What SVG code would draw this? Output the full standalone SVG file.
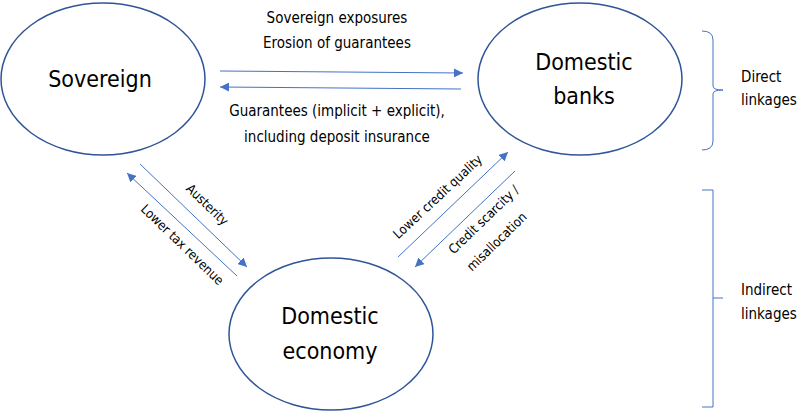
<svg xmlns="http://www.w3.org/2000/svg" width="800" height="415" viewBox="0 0 800 415">
<defs>
<marker id="ah" viewBox="0 0 10 10" refX="10" refY="5" markerWidth="9" markerHeight="9" markerUnits="userSpaceOnUse" orient="auto-start-reverse">
<path d="M0,0 L10,5 L0,10 z" fill="#4472C4"/>
</marker>
<style>
.node{fill:#fff;stroke:#2F5597;stroke-width:1.5}
.big{font-family:"Liberation Sans Narrow","DejaVu Sans Condensed","Liberation Sans",sans-serif;font-size:23px;fill:#000;text-anchor:middle}
.lab{font-family:"Liberation Sans Narrow","DejaVu Sans Condensed","Liberation Sans",sans-serif;font-size:15px;fill:#000;text-anchor:middle}
.sm{font-family:"Liberation Sans Narrow","DejaVu Sans Condensed","Liberation Sans",sans-serif;font-size:13px;fill:#000;text-anchor:middle}
.side{font-family:"Liberation Sans Narrow","DejaVu Sans Condensed","Liberation Sans",sans-serif;font-size:15px;fill:#000}
.ar{stroke:#4472C4;stroke-width:1;fill:none}
.br{stroke:#4472C4;stroke-width:1;fill:none}
</style>
</defs>
<rect width="800" height="415" fill="#fff"/>
<g id="sovereign">
<ellipse class="node" cx="103" cy="79" rx="102" ry="76"/>
<text class="big" x="100" y="87">Sovereign</text>
</g>
<g id="banks">
<ellipse class="node" cx="580" cy="79" rx="102" ry="76"/>
<text class="big" x="584" y="70">Domestic</text>
<text class="big" x="584" y="104">banks</text>
</g>
<g id="economy">
<ellipse class="node" cx="331" cy="334" rx="102" ry="76"/>
<text class="big" x="330" y="324">Domestic</text>
<text class="big" x="330" y="359">economy</text>
</g>
<g id="connectors">
<line class="ar" x1="220" y1="71" x2="463" y2="73" marker-end="url(#ah)"/>
<line class="ar" x1="461" y1="89" x2="220" y2="87" marker-end="url(#ah)"/>
<line class="ar" x1="140" y1="164" x2="247" y2="267" marker-end="url(#ah)"/>
<line class="ar" x1="237" y1="276" x2="127" y2="173" marker-end="url(#ah)"/>
<line class="ar" x1="398" y1="257" x2="508" y2="152" marker-end="url(#ah)"/>
<line class="ar" x1="515" y1="171" x2="415" y2="267" marker-end="url(#ah)"/>
</g>
<g id="labels">
<text class="lab" x="337" y="23">Sovereign exposures</text>
<text class="lab" x="337" y="48">Erosion of guarantees</text>
<text class="lab" x="337" y="116">Guarantees (implicit + explicit),</text>
<text class="lab" x="337" y="142">including deposit insurance</text>
<text class="sm" transform="translate(207,205) rotate(44)" y="4">Austerity</text>
<text class="sm" transform="translate(182,245) rotate(44)" y="4">Lower tax revenue</text>
<text class="sm" transform="translate(438,197) rotate(-43)" y="4">Lower credit quality</text>
<text class="sm" transform="translate(484,220) rotate(-44)" y="4">Credit scarcity /</text>
<text class="sm" transform="translate(497,242) rotate(-44)" y="4">misallocation</text>
</g>
<g id="brace-direct">
<path class="br" d="M702,31 Q713,31 713,40 L713,86 Q713,90 723,90 Q713,90 713,94 L713,141 Q713,150 702,150"/>
<text class="side" x="741" y="82">Direct</text>
<text class="side" x="741" y="105">linkages</text>
</g>
<g id="brace-indirect">
<path class="br" d="M702,190 L713,190 L713,407 L702,407 M713,298 L723,298"/>
<text class="side" x="741" y="295">Indirect</text>
<text class="side" x="741" y="319">linkages</text>
</g>
</svg>
